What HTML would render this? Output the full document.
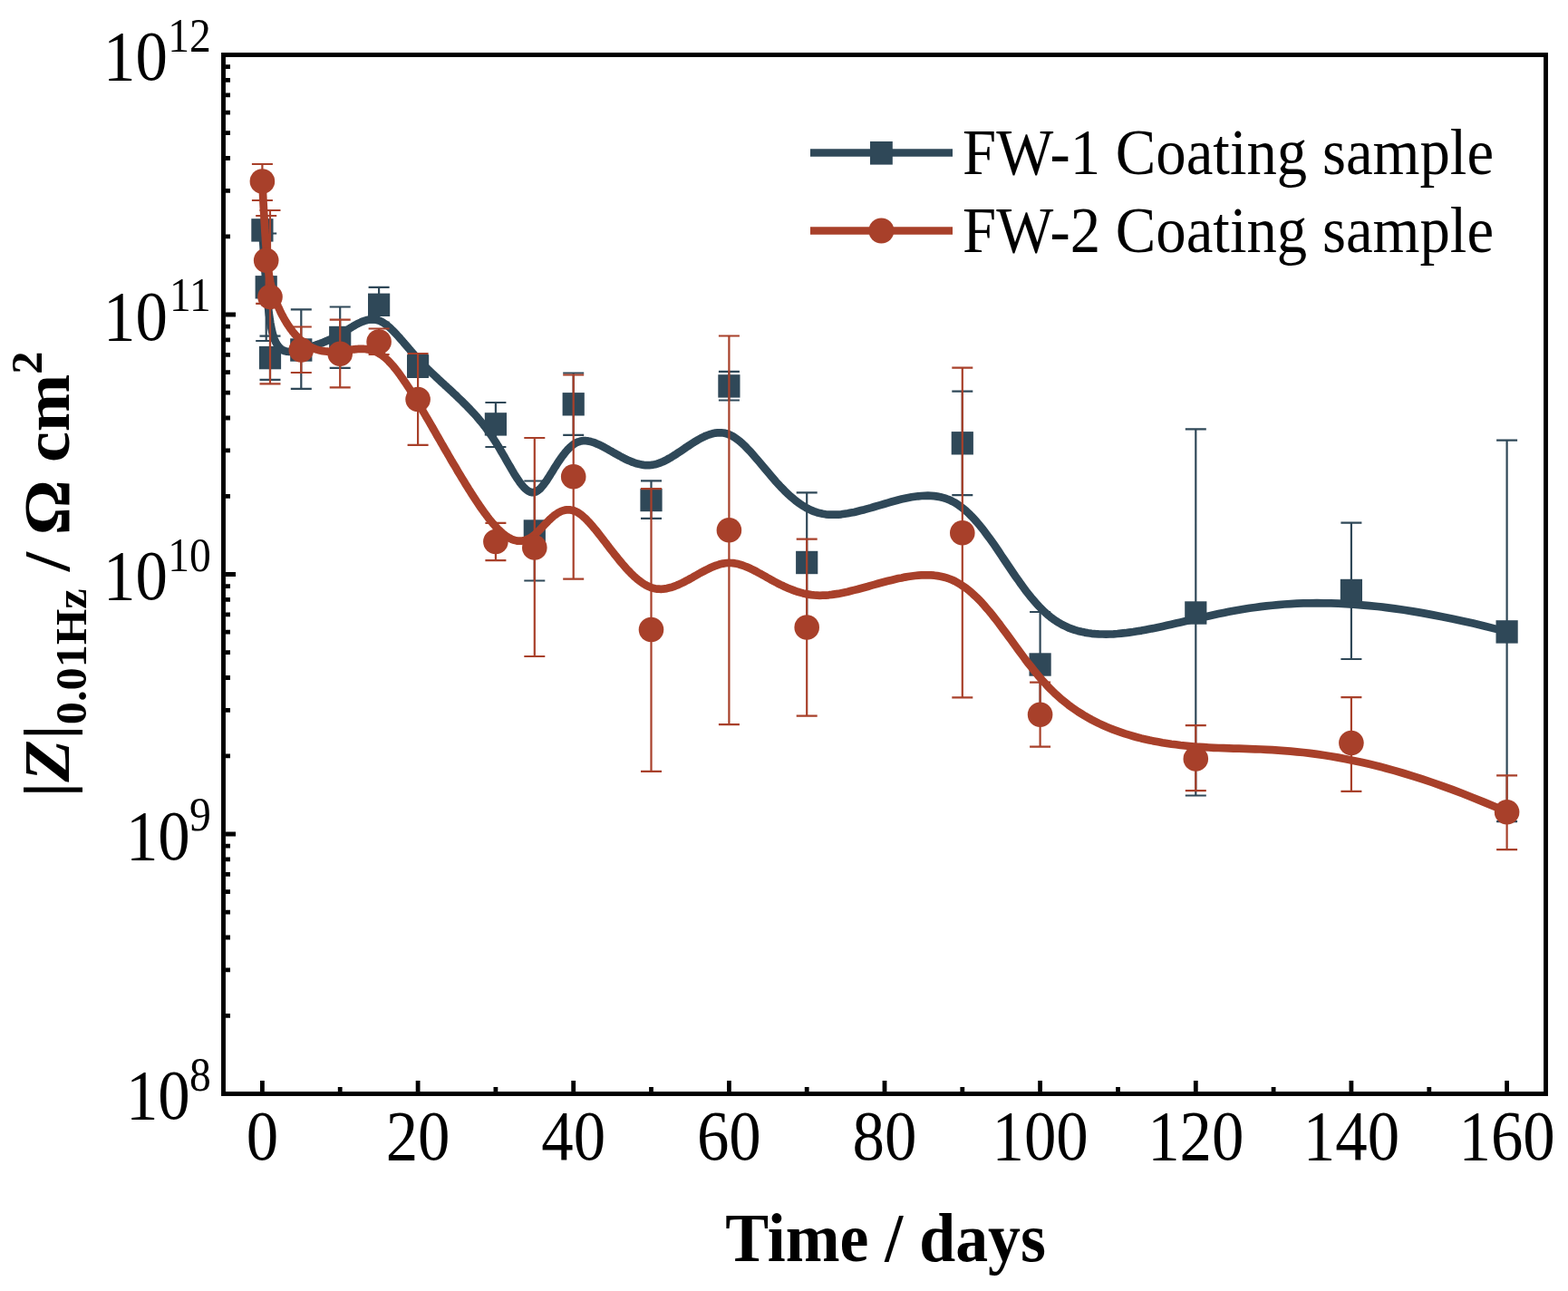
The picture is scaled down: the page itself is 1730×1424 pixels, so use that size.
<!DOCTYPE html>
<html><head><meta charset="utf-8"><style>html,body{margin:0;padding:0;background:#fff;overflow:hidden}svg{display:block}</style></head><body>
<svg width="1730" height="1424" viewBox="0 0 1730 1424">
<rect width="1730" height="1424" fill="#fff"/>
<path d="M249 260.8h5M249 210.3h5M249 174.5h5M249 146.7h5M249 124.1h5M249 104.9h5M249 88.3h5M249 73.6h5M249 347.0h11M249 547.3h5M249 496.8h5M249 461.0h5M249 433.2h5M249 410.6h5M249 391.4h5M249 374.8h5M249 360.1h5M249 633.5h11M249 833.8h5M249 783.3h5M249 747.5h5M249 719.7h5M249 697.1h5M249 677.9h5M249 661.3h5M249 646.6h5M249 920.0h11M249 1120.3h5M249 1069.8h5M249 1034.0h5M249 1006.2h5M249 983.6h5M249 964.4h5M249 947.8h5M249 933.1h5M289.4 1204v-12M461.1 1204v-12M632.7 1204v-12M804.4 1204v-12M976.0 1204v-12M1147.6 1204v-12M1319.3 1204v-12M1490.9 1204v-12M1662.6 1204v-12M375.2 1204v-5M546.9 1204v-5M718.5 1204v-5M890.2 1204v-5M1061.8 1204v-5M1233.5 1204v-5M1405.1 1204v-5M1576.8 1204v-5" stroke="#000" stroke-width="4.8" fill="none"/>
<path d="M293.7 257.5V376.0M282.2 257.5h23.0M282.2 376.0h23.0M298.0 370.6V418.8M286.5 370.6h23.0M286.5 418.8h23.0M332.3 341.3V428.8M320.8 341.3h23.0M320.8 428.8h23.0M375.2 338.5V405.9M363.7 338.5h23.0M363.7 405.9h23.0M418.1 316.9V355.7M406.6 316.9h23.0M406.6 355.7h23.0M461.1 392.0V416.0M449.6 392.0h23.0M449.6 416.0h23.0M546.9 444.0V493.0M535.4 444.0h23.0M535.4 493.0h23.0M589.8 530.5V640.5M578.3 530.5h23.0M578.3 640.5h23.0M632.7 411.5V479.8M621.2 411.5h23.0M621.2 479.8h23.0M718.5 530.4V571.9M707.0 530.4h23.0M707.0 571.9h23.0M804.4 409.9V441.5M792.9 409.9h23.0M792.9 441.5h23.0M890.2 543.4V697.5M878.7 543.4h23.0M878.7 697.5h23.0M1061.8 431.7V546.2M1050.3 431.7h23.0M1050.3 546.2h23.0M1147.6 675.0V791.0M1136.1 675.0h23.0M1136.1 791.0h23.0M1319.3 473.4V877.5M1307.8 473.4h23.0M1307.8 877.5h23.0M1490.9 576.7V727.0M1479.4 576.7h23.0M1479.4 727.0h23.0M1662.6 485.6V906.2M1651.1 485.6h23.0M1651.1 906.2h23.0" stroke="#2f4858" stroke-width="2.2" fill="none"/>
<path d="M289.4 253.9 L289.7 258.6 L290.0 263.2 L290.3 267.6 L290.6 272.1 L290.9 276.4 L291.2 280.6 L291.5 284.7 L291.8 288.8 L292.1 292.7 L292.3 296.6 L292.6 300.4 L292.9 304.1 L293.1 307.7 L293.4 311.3 L293.7 314.7 L294.0 318.1 L294.2 321.3 L294.5 324.5 L294.8 327.6 L295.1 330.6 L295.4 333.6 L295.7 336.4 L296.0 339.2 L296.3 341.9 L296.6 344.5 L296.9 347.0 L297.3 349.4 L297.6 351.8 L298.0 354.1 L298.3 356.2 L298.7 358.3 L299.1 360.4 L299.5 362.3 L299.9 364.2 L300.3 366.0 L300.7 367.7 L301.2 369.3 L301.7 370.9 L302.1 372.3 L302.6 373.7 L303.2 375.0 L303.7 376.3 L304.2 377.4 L304.8 378.5 L305.4 379.5 L306.0 380.5 L306.6 381.4 L307.3 382.2 L307.9 382.9 L308.6 383.6 L309.2 384.3 L309.9 384.8 L310.6 385.4 L311.3 385.8 L312.1 386.2 L312.8 386.6 L313.6 386.9 L314.3 387.2 L315.1 387.4 L315.9 387.6 L316.7 387.7 L317.5 387.8 L318.4 387.9 L319.2 387.9 L320.0 387.9 L320.9 387.9 L321.8 387.8 L322.6 387.7 L323.5 387.6 L324.4 387.5 L325.3 387.3 L326.2 387.1 L327.1 386.9 L328.1 386.7 L329.0 386.5 L329.9 386.2 L330.9 386.0 L331.8 385.7 L332.8 385.5 L333.8 385.2 L334.7 384.9 L335.7 384.6 L336.7 384.3 L337.7 384.1 L338.6 383.8 L339.6 383.5 L340.6 383.2 L341.6 382.9 L342.6 382.5 L343.7 382.2 L344.7 381.9 L345.7 381.6 L346.7 381.2 L347.7 380.9 L348.8 380.5 L349.8 380.2 L350.8 379.8 L351.9 379.4 L352.9 379.1 L354.0 378.7 L355.0 378.3 L356.1 377.9 L357.1 377.5 L358.2 377.0 L359.2 376.6 L360.3 376.2 L361.3 375.7 L362.4 375.2 L363.5 374.8 L364.5 374.3 L365.6 373.8 L366.7 373.3 L367.7 372.7 L368.8 372.2 L369.9 371.7 L370.9 371.1 L372.0 370.5 L373.1 369.9 L374.2 369.3 L375.2 368.7 L376.3 368.1 L377.4 367.4 L378.5 366.8 L379.5 366.1 L380.6 365.5 L381.7 364.8 L382.7 364.1 L383.8 363.5 L384.9 362.8 L386.0 362.1 L387.0 361.5 L388.1 360.8 L389.2 360.2 L390.3 359.5 L391.3 358.9 L392.4 358.3 L393.5 357.7 L394.5 357.2 L395.6 356.6 L396.7 356.1 L397.8 355.6 L398.8 355.1 L399.9 354.7 L401.0 354.3 L402.1 353.9 L403.1 353.6 L404.2 353.3 L405.3 353.0 L406.3 352.8 L407.4 352.6 L408.5 352.5 L409.6 352.4 L410.6 352.3 L411.7 352.4 L412.8 352.4 L413.9 352.5 L414.9 352.7 L416.0 353.0 L417.1 353.3 L418.1 353.6 L419.2 354.0 L420.3 354.5 L421.4 355.1 L422.4 355.7 L423.5 356.4 L424.6 357.1 L425.7 357.9 L426.8 358.7 L427.9 359.6 L429.0 360.5 L430.1 361.5 L431.2 362.5 L432.3 363.6 L433.5 364.7 L434.6 365.9 L435.8 367.1 L436.9 368.3 L438.1 369.6 L439.3 370.9 L440.5 372.2 L441.7 373.6 L442.9 375.0 L444.2 376.4 L445.4 377.9 L446.7 379.4 L448.0 380.9 L449.3 382.4 L450.6 383.9 L452.0 385.5 L453.3 387.1 L454.7 388.7 L456.1 390.3 L457.6 391.9 L459.0 393.5 L460.5 395.1 L462.0 396.8 L463.5 398.4 L465.0 400.1 L466.6 401.7 L468.2 403.4 L469.8 405.0 L471.5 406.7 L473.2 408.3 L474.8 409.9 L476.6 411.6 L478.3 413.2 L480.1 414.9 L481.8 416.5 L483.6 418.2 L485.4 419.8 L487.2 421.5 L489.1 423.2 L490.9 424.9 L492.8 426.6 L494.6 428.3 L496.5 430.0 L498.3 431.7 L500.2 433.5 L502.1 435.2 L504.0 437.0 L505.8 438.8 L507.7 440.6 L509.6 442.4 L511.5 444.3 L513.3 446.1 L515.2 448.0 L517.0 449.9 L518.9 451.8 L520.7 453.8 L522.5 455.7 L524.3 457.7 L526.1 459.7 L527.9 461.8 L529.6 463.9 L531.4 466.0 L533.1 468.1 L534.8 470.3 L536.5 472.4 L538.1 474.7 L539.7 476.9 L541.3 479.2 L542.9 481.5 L544.4 483.9 L546.0 486.3 L547.5 488.6 L548.9 491.0 L550.4 493.4 L551.8 495.8 L553.2 498.2 L554.6 500.6 L556.0 502.9 L557.3 505.3 L558.6 507.6 L559.9 509.9 L561.2 512.1 L562.5 514.3 L563.8 516.5 L565.0 518.6 L566.2 520.7 L567.4 522.7 L568.6 524.6 L569.8 526.5 L571.0 528.3 L572.2 530.0 L573.3 531.7 L574.5 533.2 L575.6 534.7 L576.7 536.0 L577.8 537.3 L579.0 538.5 L580.1 539.5 L581.2 540.4 L582.2 541.2 L583.3 541.9 L584.4 542.4 L585.5 542.8 L586.6 543.1 L587.6 543.2 L588.7 543.1 L589.8 542.9 L590.9 542.6 L591.9 542.1 L593.0 541.4 L594.1 540.6 L595.2 539.7 L596.3 538.7 L597.3 537.5 L598.4 536.2 L599.5 534.9 L600.6 533.4 L601.7 531.9 L602.9 530.3 L604.0 528.6 L605.1 526.9 L606.3 525.1 L607.4 523.2 L608.6 521.4 L609.8 519.5 L610.9 517.6 L612.1 515.6 L613.4 513.7 L614.6 511.8 L615.8 509.9 L617.1 508.0 L618.4 506.1 L619.7 504.3 L621.0 502.5 L622.3 500.8 L623.6 499.1 L625.0 497.5 L626.4 495.9 L627.8 494.5 L629.2 493.1 L630.7 491.9 L632.1 490.7 L633.6 489.7 L635.1 488.7 L636.7 487.9 L638.3 487.3 L639.9 486.8 L641.5 486.4 L643.1 486.2 L644.8 486.1 L646.5 486.2 L648.2 486.4 L650.0 486.7 L651.7 487.1 L653.5 487.6 L655.3 488.2 L657.2 488.9 L659.0 489.7 L660.9 490.5 L662.8 491.4 L664.7 492.4 L666.6 493.4 L668.6 494.5 L670.5 495.6 L672.5 496.7 L674.5 497.8 L676.5 499.0 L678.5 500.1 L680.6 501.3 L682.6 502.4 L684.7 503.5 L686.7 504.6 L688.8 505.7 L690.9 506.7 L693.0 507.7 L695.1 508.6 L697.2 509.5 L699.3 510.2 L701.4 511.0 L703.5 511.6 L705.7 512.1 L707.8 512.5 L710.0 512.9 L712.1 513.1 L714.2 513.2 L716.4 513.1 L718.5 512.9 L720.7 512.6 L722.8 512.2 L725.0 511.6 L727.1 510.9 L729.3 510.1 L731.4 509.2 L733.5 508.2 L735.7 507.1 L737.8 505.9 L740.0 504.7 L742.1 503.4 L744.3 502.0 L746.4 500.7 L748.6 499.2 L750.7 497.8 L752.9 496.3 L755.0 494.9 L757.1 493.4 L759.3 492.0 L761.4 490.6 L763.6 489.2 L765.7 487.8 L767.9 486.5 L770.0 485.2 L772.2 484.0 L774.3 482.9 L776.5 481.8 L778.6 480.8 L780.8 480.0 L782.9 479.2 L785.0 478.6 L787.2 478.0 L789.3 477.6 L791.5 477.4 L793.6 477.3 L795.8 477.3 L797.9 477.5 L800.1 477.9 L802.2 478.5 L804.4 479.3 L806.5 480.2 L808.6 481.4 L810.8 482.7 L812.9 484.2 L815.1 485.9 L817.3 487.7 L819.4 489.6 L821.6 491.7 L823.8 493.9 L826.0 496.2 L828.3 498.6 L830.5 501.1 L832.7 503.7 L835.0 506.3 L837.3 509.0 L839.6 511.8 L841.9 514.6 L844.3 517.4 L846.7 520.2 L849.1 523.1 L851.5 525.9 L853.9 528.7 L856.4 531.6 L858.9 534.3 L861.5 537.1 L864.1 539.7 L866.7 542.4 L869.3 544.9 L872.0 547.4 L874.8 549.7 L877.5 552.0 L880.3 554.2 L883.2 556.2 L886.1 558.1 L889.0 559.8 L892.0 561.4 L895.1 562.9 L898.1 564.1 L901.3 565.2 L904.5 566.1 L907.7 566.8 L911.0 567.3 L914.4 567.6 L917.8 567.7 L921.2 567.7 L924.7 567.6 L928.2 567.3 L931.7 566.8 L935.3 566.3 L938.9 565.6 L942.5 564.9 L946.2 564.0 L949.9 563.1 L953.6 562.2 L957.3 561.1 L961.0 560.1 L964.7 559.0 L968.5 557.9 L972.2 556.8 L976.0 555.7 L979.8 554.6 L983.5 553.5 L987.3 552.5 L991.0 551.5 L994.7 550.6 L998.4 549.8 L1002.1 549.0 L1005.8 548.3 L1009.5 547.8 L1013.1 547.3 L1016.7 547.0 L1020.3 546.8 L1023.8 546.7 L1027.3 546.8 L1030.8 547.1 L1034.2 547.6 L1037.6 548.2 L1041.0 549.1 L1044.3 550.2 L1047.5 551.4 L1050.7 553.0 L1053.9 554.7 L1056.9 556.7 L1060.0 558.8 L1063.0 561.2 L1066.0 563.7 L1068.9 566.4 L1071.8 569.3 L1074.6 572.3 L1077.5 575.5 L1080.3 578.8 L1083.1 582.2 L1085.8 585.7 L1088.5 589.3 L1091.3 593.0 L1094.0 596.8 L1096.7 600.6 L1099.4 604.5 L1102.1 608.5 L1104.7 612.5 L1107.4 616.5 L1110.1 620.5 L1112.8 624.5 L1115.5 628.5 L1118.2 632.5 L1120.9 636.4 L1123.7 640.3 L1126.4 644.2 L1129.2 648.0 L1132.0 651.8 L1134.8 655.4 L1137.7 659.0 L1140.6 662.4 L1143.5 665.8 L1146.5 669.0 L1149.5 672.0 L1152.5 675.0 L1155.6 677.8 L1158.8 680.4 L1162.0 682.8 L1165.2 685.0 L1168.5 687.1 L1171.8 689.0 L1175.3 690.7 L1178.7 692.3 L1182.2 693.6 L1185.8 694.9 L1189.4 695.9 L1193.1 696.8 L1196.8 697.6 L1200.6 698.3 L1204.4 698.8 L1208.3 699.2 L1212.3 699.4 L1216.3 699.5 L1220.3 699.6 L1224.4 699.5 L1228.6 699.3 L1232.8 699.0 L1237.0 698.6 L1241.4 698.2 L1245.7 697.6 L1250.2 697.0 L1254.6 696.3 L1259.2 695.6 L1263.8 694.7 L1268.4 693.8 L1273.1 692.9 L1277.8 691.9 L1282.6 690.9 L1287.5 689.8 L1292.4 688.7 L1297.4 687.6 L1302.4 686.5 L1307.4 685.3 L1312.6 684.1 L1317.7 682.9 L1323.0 681.7 L1328.3 680.6 L1333.6 679.4 L1339.0 678.2 L1344.4 677.1 L1350.0 675.9 L1355.6 674.8 L1361.2 673.8 L1367.0 672.8 L1372.8 671.8 L1378.8 670.8 L1384.9 670.0 L1391.0 669.1 L1397.3 668.4 L1403.8 667.7 L1410.3 667.1 L1417.0 666.5 L1423.9 666.1 L1430.9 665.7 L1438.0 665.4 L1445.4 665.3 L1452.9 665.2 L1460.5 665.3 L1468.4 665.4 L1476.5 665.7 L1484.8 666.1 L1493.2 666.6 L1501.9 667.3 L1510.8 668.1 L1520.0 669.0 L1529.3 670.1 L1539.0 671.4 L1548.8 672.8 L1558.9 674.4 L1569.3 676.1 L1580.0 678.1 L1590.9 680.2 L1602.1 682.5 L1613.6 685.0 L1625.4 687.6 L1637.5 690.5 L1649.9 693.6 L1662.6 696.9" stroke="#2f4858" stroke-width="8.7" fill="none" stroke-linejoin="round"/>
<rect x="277.3" y="241.2" width="24.2" height="25.4" fill="#2f4858"/>
<rect x="281.6" y="304.1" width="24.2" height="25.4" fill="#2f4858"/>
<rect x="285.9" y="381.9" width="24.2" height="25.4" fill="#2f4858"/>
<rect x="320.2" y="373.3" width="24.2" height="25.4" fill="#2f4858"/>
<rect x="363.1" y="359.8" width="24.2" height="25.4" fill="#2f4858"/>
<rect x="406.0" y="323.6" width="24.2" height="25.4" fill="#2f4858"/>
<rect x="449.0" y="391.3" width="24.2" height="25.4" fill="#2f4858"/>
<rect x="534.8" y="455.2" width="24.2" height="25.4" fill="#2f4858"/>
<rect x="577.7" y="573.3" width="24.2" height="25.4" fill="#2f4858"/>
<rect x="620.6" y="433.1" width="24.2" height="25.4" fill="#2f4858"/>
<rect x="706.4" y="538.8" width="24.2" height="25.4" fill="#2f4858"/>
<rect x="792.3" y="413.2" width="24.2" height="25.4" fill="#2f4858"/>
<rect x="878.1" y="607.8" width="24.2" height="25.4" fill="#2f4858"/>
<rect x="1049.7" y="476.1" width="24.2" height="25.4" fill="#2f4858"/>
<rect x="1135.5" y="720.3" width="24.2" height="25.4" fill="#2f4858"/>
<rect x="1307.2" y="663.3" width="24.2" height="25.4" fill="#2f4858"/>
<rect x="1478.8" y="638.8" width="24.2" height="25.4" fill="#2f4858"/>
<rect x="1650.5" y="684.2" width="24.2" height="25.4" fill="#2f4858"/>
<path d="M289.4 181.0V221.0M277.9 181.0h23.0M277.9 221.0h23.0M293.7 238.0V334.8M282.2 238.0h23.0M282.2 334.8h23.0M298.0 232.0V423.3M286.5 232.0h23.0M286.5 423.3h23.0M332.3 360.5V411.0M320.8 360.5h23.0M320.8 411.0h23.0M375.2 352.6V427.3M363.7 352.6h23.0M363.7 427.3h23.0M418.1 362.5V391.0M406.6 362.5h23.0M406.6 391.0h23.0M461.1 390.0V490.8M449.6 390.0h23.0M449.6 490.8h23.0M546.9 576.8V618.2M535.4 576.8h23.0M535.4 618.2h23.0M589.8 483.0V724.0M578.3 483.0h23.0M578.3 724.0h23.0M632.7 413.5V638.7M621.2 413.5h23.0M621.2 638.7h23.0M718.5 539.2V850.9M707.0 539.2h23.0M707.0 850.9h23.0M804.4 370.5V799.2M792.9 370.5h23.0M792.9 799.2h23.0M890.2 594.7V789.7M878.7 594.7h23.0M878.7 789.7h23.0M1061.8 405.6V769.3M1050.3 405.6h23.0M1050.3 769.3h23.0M1147.6 752.7V823.7M1136.1 752.7h23.0M1136.1 823.7h23.0M1319.3 800.2V872.2M1307.8 800.2h23.0M1307.8 872.2h23.0M1490.9 769.2V872.9M1479.4 769.2h23.0M1479.4 872.9h23.0M1662.6 855.3V937.2M1651.1 855.3h23.0M1651.1 937.2h23.0" stroke="#a8402a" stroke-width="2.2" fill="none"/>
<path d="M289.4 200.0 L289.7 206.4 L290.0 212.6 L290.3 218.5 L290.6 224.2 L290.9 229.7 L291.2 235.0 L291.5 240.0 L291.8 244.9 L292.1 249.5 L292.3 253.9 L292.6 258.2 L292.9 262.2 L293.1 266.1 L293.4 269.9 L293.7 273.4 L294.0 276.8 L294.2 280.0 L294.5 283.1 L294.8 286.1 L295.1 288.9 L295.4 291.6 L295.7 294.2 L296.0 296.7 L296.3 299.0 L296.6 301.3 L296.9 303.5 L297.3 305.5 L297.6 307.5 L298.0 309.4 L298.3 311.3 L298.7 313.1 L299.1 314.8 L299.5 316.5 L299.9 318.1 L300.3 319.7 L300.7 321.2 L301.2 322.8 L301.7 324.3 L302.1 325.8 L302.6 327.3 L303.2 328.7 L303.7 330.2 L304.2 331.7 L304.8 333.2 L305.4 334.7 L306.0 336.1 L306.6 337.6 L307.3 339.0 L307.9 340.5 L308.6 341.9 L309.2 343.3 L309.9 344.8 L310.6 346.2 L311.3 347.6 L312.1 348.9 L312.8 350.3 L313.6 351.7 L314.3 353.0 L315.1 354.3 L315.9 355.6 L316.7 356.9 L317.5 358.2 L318.4 359.4 L319.2 360.7 L320.0 361.9 L320.9 363.1 L321.8 364.2 L322.6 365.4 L323.5 366.5 L324.4 367.6 L325.3 368.7 L326.2 369.7 L327.1 370.7 L328.1 371.7 L329.0 372.7 L329.9 373.6 L330.9 374.5 L331.8 375.3 L332.8 376.2 L333.8 377.0 L334.7 377.8 L335.7 378.5 L336.7 379.2 L337.7 379.9 L338.6 380.5 L339.6 381.1 L340.6 381.7 L341.6 382.2 L342.6 382.7 L343.7 383.2 L344.7 383.7 L345.7 384.1 L346.7 384.5 L347.7 384.9 L348.8 385.3 L349.8 385.6 L350.8 385.9 L351.9 386.2 L352.9 386.4 L354.0 386.7 L355.0 386.9 L356.1 387.1 L357.1 387.2 L358.2 387.4 L359.2 387.5 L360.3 387.6 L361.3 387.7 L362.4 387.8 L363.5 387.8 L364.5 387.8 L365.6 387.9 L366.7 387.9 L367.7 387.9 L368.8 387.8 L369.9 387.8 L370.9 387.7 L372.0 387.7 L373.1 387.6 L374.2 387.5 L375.2 387.4 L376.3 387.2 L377.4 387.1 L378.5 387.0 L379.5 386.8 L380.6 386.7 L381.7 386.5 L382.7 386.4 L383.8 386.2 L384.9 386.1 L386.0 385.9 L387.0 385.8 L388.1 385.6 L389.2 385.5 L390.3 385.4 L391.3 385.3 L392.4 385.2 L393.5 385.1 L394.5 385.0 L395.6 384.9 L396.7 384.9 L397.8 384.9 L398.8 384.8 L399.9 384.9 L401.0 384.9 L402.1 385.0 L403.1 385.0 L404.2 385.2 L405.3 385.3 L406.3 385.5 L407.4 385.7 L408.5 385.9 L409.6 386.2 L410.6 386.5 L411.7 386.8 L412.8 387.2 L413.9 387.7 L414.9 388.1 L416.0 388.6 L417.1 389.2 L418.1 389.8 L419.2 390.5 L420.3 391.2 L421.4 391.9 L422.4 392.7 L423.5 393.5 L424.6 394.4 L425.7 395.4 L426.8 396.4 L427.9 397.4 L429.0 398.5 L430.1 399.7 L431.2 400.9 L432.3 402.1 L433.5 403.4 L434.6 404.8 L435.8 406.2 L436.9 407.6 L438.1 409.1 L439.3 410.7 L440.5 412.3 L441.7 414.0 L442.9 415.7 L444.2 417.5 L445.4 419.3 L446.7 421.2 L448.0 423.1 L449.3 425.1 L450.6 427.1 L452.0 429.2 L453.3 431.4 L454.7 433.6 L456.1 435.9 L457.6 438.2 L459.0 440.6 L460.5 443.0 L462.0 445.5 L463.5 448.1 L465.0 450.7 L466.6 453.4 L468.2 456.1 L469.8 458.9 L471.5 461.7 L473.2 464.6 L474.8 467.5 L476.6 470.5 L478.3 473.5 L480.1 476.6 L481.8 479.7 L483.6 482.8 L485.4 485.9 L487.2 489.1 L489.1 492.3 L490.9 495.5 L492.8 498.7 L494.6 501.9 L496.5 505.1 L498.3 508.3 L500.2 511.5 L502.1 514.6 L504.0 517.8 L505.8 521.0 L507.7 524.1 L509.6 527.2 L511.5 530.3 L513.3 533.3 L515.2 536.3 L517.0 539.3 L518.9 542.2 L520.7 545.1 L522.5 547.9 L524.3 550.7 L526.1 553.4 L527.9 556.0 L529.6 558.6 L531.4 561.1 L533.1 563.5 L534.8 565.9 L536.5 568.1 L538.1 570.3 L539.7 572.4 L541.3 574.4 L542.9 576.3 L544.4 578.1 L546.0 579.8 L547.5 581.5 L548.9 583.0 L550.4 584.5 L551.8 585.8 L553.2 587.1 L554.6 588.3 L556.0 589.4 L557.3 590.4 L558.6 591.4 L559.9 592.2 L561.2 593.0 L562.5 593.7 L563.8 594.4 L565.0 594.9 L566.2 595.4 L567.4 595.8 L568.6 596.1 L569.8 596.4 L571.0 596.6 L572.2 596.7 L573.3 596.7 L574.5 596.7 L575.6 596.6 L576.7 596.5 L577.8 596.2 L579.0 596.0 L580.1 595.6 L581.2 595.2 L582.2 594.7 L583.3 594.2 L584.4 593.6 L585.5 593.0 L586.6 592.2 L587.6 591.5 L588.7 590.7 L589.8 589.8 L590.9 588.9 L591.9 587.9 L593.0 586.9 L594.1 585.8 L595.2 584.8 L596.3 583.6 L597.3 582.5 L598.4 581.4 L599.5 580.2 L600.6 579.0 L601.7 577.9 L602.9 576.7 L604.0 575.6 L605.1 574.4 L606.3 573.3 L607.4 572.2 L608.6 571.1 L609.8 570.1 L610.9 569.1 L612.1 568.2 L613.4 567.3 L614.6 566.5 L615.8 565.7 L617.1 565.0 L618.4 564.3 L619.7 563.8 L621.0 563.3 L622.3 562.9 L623.6 562.6 L625.0 562.4 L626.4 562.3 L627.8 562.3 L629.2 562.4 L630.7 562.7 L632.1 563.0 L633.6 563.5 L635.1 564.1 L636.7 564.9 L638.3 565.8 L639.9 566.9 L641.5 568.1 L643.1 569.4 L644.8 570.9 L646.5 572.5 L648.2 574.3 L650.0 576.1 L651.7 578.1 L653.5 580.2 L655.3 582.3 L657.2 584.5 L659.0 586.8 L660.9 589.2 L662.8 591.6 L664.7 594.1 L666.6 596.6 L668.6 599.1 L670.5 601.7 L672.5 604.3 L674.5 606.9 L676.5 609.4 L678.5 612.0 L680.6 614.6 L682.6 617.1 L684.7 619.6 L686.7 622.0 L688.8 624.4 L690.9 626.8 L693.0 629.1 L695.1 631.2 L697.2 633.4 L699.3 635.4 L701.4 637.3 L703.5 639.1 L705.7 640.8 L707.8 642.4 L710.0 643.8 L712.1 645.1 L714.2 646.3 L716.4 647.3 L718.5 648.1 L720.7 648.7 L722.8 649.2 L725.0 649.6 L727.1 649.7 L729.3 649.8 L731.4 649.7 L733.5 649.4 L735.7 649.1 L737.8 648.6 L740.0 648.1 L742.1 647.4 L744.3 646.6 L746.4 645.8 L748.6 644.9 L750.7 643.9 L752.9 642.9 L755.0 641.8 L757.1 640.7 L759.3 639.6 L761.4 638.4 L763.6 637.2 L765.7 635.9 L767.9 634.7 L770.0 633.5 L772.2 632.3 L774.3 631.1 L776.5 630.0 L778.6 628.9 L780.8 627.8 L782.9 626.8 L785.0 625.8 L787.2 624.9 L789.3 624.0 L791.5 623.3 L793.6 622.6 L795.8 622.1 L797.9 621.6 L800.1 621.3 L802.2 621.0 L804.4 620.9 L806.5 621.0 L808.6 621.1 L810.8 621.4 L812.9 621.8 L815.1 622.3 L817.3 623.0 L819.4 623.7 L821.6 624.5 L823.8 625.3 L826.0 626.3 L828.3 627.3 L830.5 628.4 L832.7 629.5 L835.0 630.7 L837.3 632.0 L839.6 633.2 L841.9 634.5 L844.3 635.8 L846.7 637.2 L849.1 638.5 L851.5 639.9 L853.9 641.2 L856.4 642.5 L858.9 643.8 L861.5 645.1 L864.1 646.3 L866.7 647.6 L869.3 648.7 L872.0 649.8 L874.8 650.9 L877.5 651.9 L880.3 652.8 L883.2 653.6 L886.1 654.4 L889.0 655.1 L892.0 655.6 L895.1 656.1 L898.1 656.4 L901.3 656.6 L904.5 656.8 L907.7 656.7 L911.0 656.6 L914.4 656.3 L917.8 655.9 L921.2 655.4 L924.7 654.9 L928.2 654.2 L931.7 653.5 L935.3 652.7 L938.9 651.8 L942.5 650.9 L946.2 650.0 L949.9 649.0 L953.6 648.0 L957.3 647.0 L961.0 645.9 L964.7 644.9 L968.5 643.8 L972.2 642.8 L976.0 641.8 L979.8 640.8 L983.5 639.9 L987.3 639.0 L991.0 638.1 L994.7 637.4 L998.4 636.6 L1002.1 636.0 L1005.8 635.5 L1009.5 635.0 L1013.1 634.7 L1016.7 634.4 L1020.3 634.3 L1023.8 634.3 L1027.3 634.4 L1030.8 634.7 L1034.2 635.1 L1037.6 635.7 L1041.0 636.5 L1044.3 637.4 L1047.5 638.5 L1050.7 639.8 L1053.9 641.3 L1056.9 643.0 L1060.0 644.8 L1063.0 646.8 L1066.0 648.9 L1068.9 651.2 L1071.8 653.6 L1074.6 656.2 L1077.5 658.9 L1080.3 661.7 L1083.1 664.6 L1085.8 667.7 L1088.5 670.8 L1091.3 674.0 L1094.0 677.3 L1096.7 680.7 L1099.4 684.1 L1102.1 687.6 L1104.7 691.2 L1107.4 694.8 L1110.1 698.4 L1112.8 702.1 L1115.5 705.8 L1118.2 709.6 L1120.9 713.3 L1123.7 717.1 L1126.4 720.8 L1129.2 724.5 L1132.0 728.3 L1134.8 732.0 L1137.7 735.6 L1140.6 739.3 L1143.5 742.8 L1146.5 746.4 L1149.5 749.8 L1152.5 753.2 L1155.6 756.6 L1158.8 759.8 L1162.0 763.0 L1165.2 766.1 L1168.5 769.0 L1171.8 771.9 L1175.3 774.7 L1178.7 777.4 L1182.2 780.0 L1185.8 782.5 L1189.4 785.0 L1193.1 787.3 L1196.8 789.6 L1200.6 791.8 L1204.4 793.9 L1208.3 795.9 L1212.3 797.9 L1216.3 799.7 L1220.3 801.5 L1224.4 803.2 L1228.6 804.9 L1232.8 806.4 L1237.0 807.9 L1241.4 809.4 L1245.7 810.7 L1250.2 812.0 L1254.6 813.2 L1259.2 814.4 L1263.8 815.4 L1268.4 816.5 L1273.1 817.4 L1277.8 818.3 L1282.6 819.2 L1287.5 820.0 L1292.4 820.7 L1297.4 821.3 L1302.4 822.0 L1307.4 822.5 L1312.6 823.0 L1317.7 823.5 L1323.0 823.9 L1328.3 824.2 L1333.6 824.5 L1339.0 824.8 L1344.4 825.0 L1350.0 825.2 L1355.6 825.4 L1361.2 825.6 L1367.0 825.7 L1372.8 825.9 L1378.8 826.1 L1384.9 826.3 L1391.0 826.5 L1397.3 826.8 L1403.8 827.2 L1410.3 827.6 L1417.0 828.1 L1423.9 828.6 L1430.9 829.3 L1438.0 830.0 L1445.4 830.9 L1452.9 831.9 L1460.5 833.0 L1468.4 834.2 L1476.5 835.6 L1484.8 837.2 L1493.2 838.9 L1501.9 840.7 L1510.8 842.8 L1520.0 845.0 L1529.3 847.5 L1539.0 850.1 L1548.8 853.0 L1558.9 856.1 L1569.3 859.4 L1580.0 863.0 L1590.9 866.9 L1602.1 870.9 L1613.6 875.3 L1625.4 880.0 L1637.5 884.9 L1649.9 890.1 L1662.6 895.7" stroke="#a8402a" stroke-width="8.7" fill="none" stroke-linejoin="round"/>
<circle cx="289.4" cy="200.0" r="13.8" fill="#a8402a"/>
<circle cx="293.7" cy="287.3" r="13.8" fill="#a8402a"/>
<circle cx="298.0" cy="327.6" r="13.8" fill="#a8402a"/>
<circle cx="332.3" cy="386.0" r="13.8" fill="#a8402a"/>
<circle cx="375.2" cy="390.3" r="13.8" fill="#a8402a"/>
<circle cx="418.1" cy="377.0" r="13.8" fill="#a8402a"/>
<circle cx="461.1" cy="440.5" r="13.8" fill="#a8402a"/>
<circle cx="546.9" cy="597.5" r="13.8" fill="#a8402a"/>
<circle cx="589.8" cy="603.9" r="13.8" fill="#a8402a"/>
<circle cx="632.7" cy="525.7" r="13.8" fill="#a8402a"/>
<circle cx="718.5" cy="694.5" r="13.8" fill="#a8402a"/>
<circle cx="804.4" cy="584.8" r="13.8" fill="#a8402a"/>
<circle cx="890.2" cy="692.0" r="13.8" fill="#a8402a"/>
<circle cx="1061.8" cy="587.7" r="13.8" fill="#a8402a"/>
<circle cx="1147.6" cy="788.3" r="13.8" fill="#a8402a"/>
<circle cx="1319.3" cy="837.0" r="13.8" fill="#a8402a"/>
<circle cx="1490.9" cy="819.6" r="13.8" fill="#a8402a"/>
<circle cx="1662.6" cy="895.7" r="13.8" fill="#a8402a"/>
<rect x="246.5" y="60.5" width="1459.0" height="1146.0" fill="none" stroke="#000" stroke-width="4.9"/>
<path d="M894 168.5H1051" stroke="#2f4858" stroke-width="8.5"/>
<rect x="960" y="156" width="24.8" height="25.6" fill="#2f4858"/>
<path d="M894 254.5H1051" stroke="#a8402a" stroke-width="8.5"/>
<circle cx="972.4" cy="254.5" r="14" fill="#a8402a"/>
<text transform="translate(1062.00 191.60) scale(0.9300 1)" font-family="Liberation Serif, Times New Roman, serif" font-size="71.8" >FW-1 Coating sample</text>
<text transform="translate(1062.00 277.50) scale(0.9300 1)" font-family="Liberation Serif, Times New Roman, serif" font-size="71.8" >FW-2 Coating sample</text>
<text transform="translate(289.41 1278.90) scale(0.9150 1)" font-family="Liberation Serif, Times New Roman, serif" font-size="77.4" text-anchor="middle" >0</text>
<text transform="translate(461.06 1278.90) scale(0.9150 1)" font-family="Liberation Serif, Times New Roman, serif" font-size="77.4" text-anchor="middle" >20</text>
<text transform="translate(632.71 1278.90) scale(0.9150 1)" font-family="Liberation Serif, Times New Roman, serif" font-size="77.4" text-anchor="middle" >40</text>
<text transform="translate(804.35 1278.90) scale(0.9150 1)" font-family="Liberation Serif, Times New Roman, serif" font-size="77.4" text-anchor="middle" >60</text>
<text transform="translate(976.00 1278.90) scale(0.9150 1)" font-family="Liberation Serif, Times New Roman, serif" font-size="77.4" text-anchor="middle" >80</text>
<text transform="translate(1147.65 1278.90) scale(0.9150 1)" font-family="Liberation Serif, Times New Roman, serif" font-size="77.4" text-anchor="middle" >100</text>
<text transform="translate(1319.29 1278.90) scale(0.9150 1)" font-family="Liberation Serif, Times New Roman, serif" font-size="77.4" text-anchor="middle" >120</text>
<text transform="translate(1490.94 1278.90) scale(0.9150 1)" font-family="Liberation Serif, Times New Roman, serif" font-size="77.4" text-anchor="middle" >140</text>
<text transform="translate(1662.59 1278.90) scale(0.9150 1)" font-family="Liberation Serif, Times New Roman, serif" font-size="77.4" text-anchor="middle" >160</text>
<text transform="translate(184.80 88.00) scale(0.9150 1)" font-family="Liberation Serif, Times New Roman, serif" font-size="77.4" text-anchor="end" >10</text>
<text transform="translate(232.80 56.70) scale(0.9150 1)" font-family="Liberation Serif, Times New Roman, serif" font-size="52.0" text-anchor="end" >12</text>
<text transform="translate(184.80 374.50) scale(0.9150 1)" font-family="Liberation Serif, Times New Roman, serif" font-size="77.4" text-anchor="end" >10</text>
<text transform="translate(232.80 343.20) scale(0.9150 1)" font-family="Liberation Serif, Times New Roman, serif" font-size="52.0" text-anchor="end" >11</text>
<text transform="translate(184.80 661.00) scale(0.9150 1)" font-family="Liberation Serif, Times New Roman, serif" font-size="77.4" text-anchor="end" >10</text>
<text transform="translate(232.80 629.70) scale(0.9150 1)" font-family="Liberation Serif, Times New Roman, serif" font-size="52.0" text-anchor="end" >10</text>
<text transform="translate(209.70 947.50) scale(0.9150 1)" font-family="Liberation Serif, Times New Roman, serif" font-size="77.4" text-anchor="end" >10</text>
<text transform="translate(232.80 916.20) scale(0.9150 1)" font-family="Liberation Serif, Times New Roman, serif" font-size="52.0" text-anchor="end" >9</text>
<text transform="translate(209.70 1234.00) scale(0.9150 1)" font-family="Liberation Serif, Times New Roman, serif" font-size="77.4" text-anchor="end" >10</text>
<text transform="translate(232.80 1202.70) scale(0.9150 1)" font-family="Liberation Serif, Times New Roman, serif" font-size="52.0" text-anchor="end" >8</text>
<text transform="translate(977.00 1391.00) scale(0.9400 1)" font-family="Liberation Serif, Times New Roman, serif" font-size="76.4" text-anchor="middle" font-weight="bold">Time / days</text>
<text transform="translate(75.8 879.4) rotate(-90) scale(1.051 1)" font-family="Liberation Serif, Times New Roman, serif" font-size="72.5" font-weight="bold">|<tspan font-style="italic">Z</tspan>|<tspan font-size="48" dy="19.5">0.01Hz</tspan><tspan dy="-19.5"> / Ω cm</tspan><tspan font-size="48" dy="-30">2</tspan></text>
</svg>
</body></html>
